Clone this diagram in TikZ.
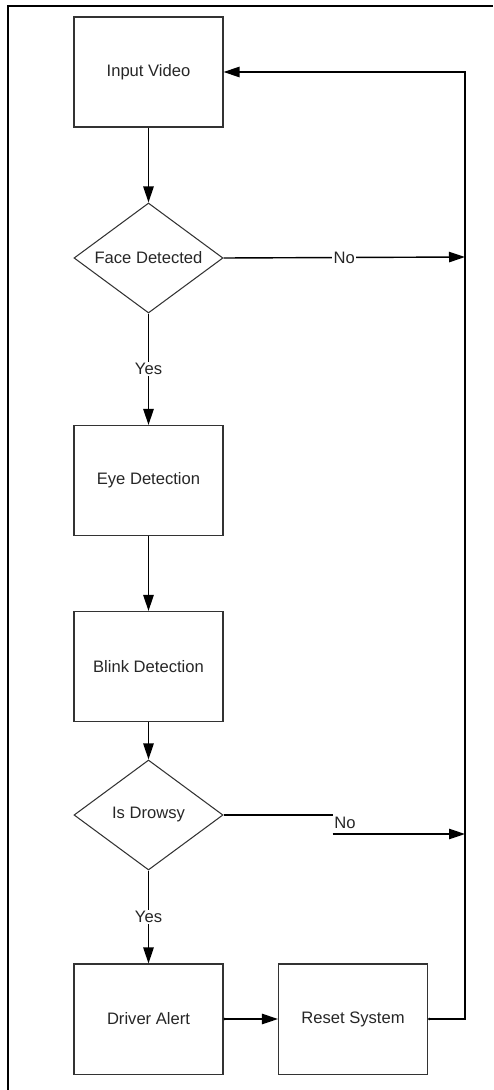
\documentclass[tikz,border=0pt]{standalone}
\usepackage{fontspec}
\setmainfont{Liberation Sans}
\usetikzlibrary{shapes.geometric,arrows.meta}
\begin{document}
\begin{tikzpicture}[x=0.025cm,y=-0.025cm,
    boite/.style={draw=black!80, line width=0.75pt, minimum width=3.725cm,
        minimum height=2.75cm, inner sep=0pt, text=black!85,
        font=\fontsize{11.8}{13}\selectfont},
    test/.style={boite, diamond, aspect=1.355},
    pointe/.style={-{Triangle[length=4mm,width=2.6mm]}},
    fleche/.style={line width=1pt, pointe},
    etiq/.style={fill=white, inner sep=1pt, text=black!85,
        font=\fontsize{11.8}{13}\selectfont}]
    % Dimensions de la page
    \pgfmathsetmacro{\largeur}{493}
    \pgfmathsetmacro{\hauteur}{1090}
    \useasboundingbox (0,0) rectangle (\largeur,\hauteur);

    % Colonne et rail de retour
    \pgfmathsetmacro{\xcol}{148.5}
    \pgfmathsetmacro{\xrail}{465}

    % Cadre autour de la figure
    \draw[line width=2pt] (8,\hauteur) -- (8,6) -- (\largeur,6);

    % Les blocs
    \node[boite] (input) at (\xcol,72) {Input Video};
    \node[test] (face) at (\xcol,258) {Face Detected};
    \node[boite] (eye) at (\xcol,480.5) {Eye Detection};
    \node[boite] (blink) at (\xcol,666.5) {Blink Detection};
    \node[test] (drowsy) at (\xcol,815) {Is Drowsy};
    \node[boite] (alert) at (\xcol,1019) {Driver Alert};
    \node[boite] (reset) at (353,1019) {Reset System};

    % Points du rail
    \coordinate (railhaut) at (\xrail,72);
    \coordinate (railface) at (\xrail,257);
    \coordinate (raildrowsy) at (\xrail,834);
    \node[etiq, fill=none] (nodrowsy) at (345,823) {No};

    % Fleches principales
    \draw[fleche] (input) -- (face);
    \draw[fleche] (face) -- node[etiq] {Yes} (eye);
    \draw[fleche] (eye) -- (blink);
    \draw[fleche] (blink) -- (drowsy);
    \draw[fleche] (drowsy) -- node[etiq] {Yes} (alert);
    \draw[fleche, {Circle[length=1.6pt]}-{Triangle[length=4mm,width=2.6mm]}] (alert) -- (reset);

    % Branches "No" et retour
    \draw[fleche] (face.east) -- node[etiq, pos=0.5] {No} (railface);
    \draw[line width=1pt] (drowsy.east) -- (drowsy.east -| nodrowsy.west);
    \draw[fleche] (nodrowsy.south west |- raildrowsy) -- (raildrowsy);
    \draw[fleche, {Circle[length=1.6pt]}-{Triangle[length=4mm,width=2.6mm]}]
        (reset.east) -- (reset.east -| railhaut) -- (railhaut) -- (input.east);
\end{tikzpicture}
\end{document}
